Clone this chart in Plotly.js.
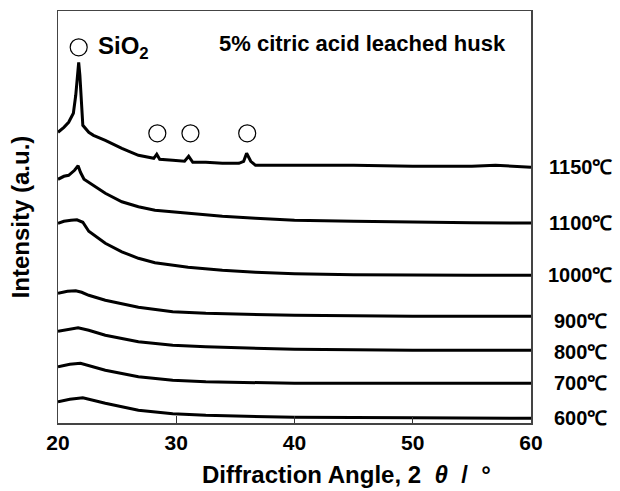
<!DOCTYPE html>
<html>
<head>
<meta charset="utf-8">
<script src="https://cdn.plot.ly/plotly-3.0.1.min.js"></script>
<style>html,body{margin:0;padding:0;background:#fff;}#chart{width:620px;height:491px;}</style>
</head>
<body>
<div id="chart"></div>
<script>
// ---- data ----
const tempLabels = ['1150℃', '1100℃', '1000℃', '900℃', '800℃', '700℃', '600℃'];

const x1150 = [20.0, 20.5, 20.9, 21.3, 21.5, 21.65, 21.75, 21.85, 22.0, 22.1, 22.6, 23.0, 24.0, 25.4, 26.8, 27.8, 28.1, 28.35, 28.6, 29.7, 30.7, 31.05, 31.4, 32.5, 33.9, 35.3, 35.7, 35.95, 36.3, 36.7, 40, 45, 50, 55, 57, 60];
const y1150 = [291, 296, 301, 310, 328, 353, 361, 348, 313, 298, 291, 288, 283, 275, 268, 266, 265, 269, 264, 263, 262, 267, 261, 261, 260, 260, 262, 270, 262, 258, 258, 258, 257, 257, 258, 256];

const x1100 = [20.0, 20.5, 20.9, 21.4, 21.7, 21.9, 22.2, 22.6, 24.0, 25.4, 26.8, 28.2, 31.0, 33.9, 36.7, 40, 45, 50, 55, 60];
const y1100 = [244, 247, 248, 253, 257.5, 251, 244, 241, 230, 221.5, 216.5, 213, 210, 207, 205, 203, 202, 201, 200.5, 200.3];

const x1000 = [20.0, 20.5, 21.1, 21.6, 22.1, 22.6, 24.0, 25.4, 26.8, 28.2, 31.0, 33.9, 36.7, 40, 45, 50, 55, 60];
const y1000 = [200, 202, 203, 203.5, 201, 192, 180, 171.5, 165, 160.5, 156, 153, 151, 149.5, 148.5, 148, 148, 148];

const x900 = [20.0, 20.8, 21.5, 22.0, 22.6, 24.0, 26.8, 29.7, 32.5, 36.7, 40, 50, 60];
const y900 = [130, 132, 132.5, 131, 128, 123, 116, 111.5, 110, 109, 108, 107, 107];

const x800 = [20.0, 21.0, 21.7, 22.6, 24.0, 26.8, 29.7, 32.5, 36.7, 40, 50, 60];
const y800 = [92, 94.5, 95.5, 93, 88, 81.5, 78, 76.5, 75, 74, 73, 73];

const x700 = [20.0, 21.0, 21.9, 24.0, 26.8, 29.7, 32.5, 36.7, 40, 50, 60];
const y700 = [56.5, 59, 60, 53, 46.5, 43, 41.5, 40.5, 40, 40, 40];

const x600 = [20.0, 21.0, 22.1, 24.0, 26.8, 29.7, 32.5, 36.7, 40, 50, 60];
const y600 = [21.5, 24, 25.5, 20, 13, 9.5, 8, 6.5, 6, 5.5, 5];

// SiO2 peak markers (open circles)
const sio2PeakX = [21.75, 28.4, 31.2, 36.0];
const sio2PeakY = [376, 290, 290, 290];

const xTickVals = [20, 30, 40, 50, 60];

// ---- chart ----
const series = [
  [x1150, y1150], [x1100, y1100], [x1000, y1000], [x900, y900],
  [x800, y800], [x700, y700], [x600, y600]
];

const FONT = 'Liberation Sans, Arial, sans-serif';
const NB = '\u00A0';

const traces = series.map((s, i) => ({
  type: 'scatter', mode: 'lines', x: s[0], y: s[1], name: tempLabels[i],
  line: {color: '#000', width: 3}, showlegend: false, hoverinfo: 'skip'
}));
traces.push({
  type: 'scatter', mode: 'markers', x: sio2PeakX, y: sio2PeakY, showlegend: false,
  marker: {symbol: 'circle-open', size: 17, color: '#000', line: {width: 1.2, color: '#000'}},
  hoverinfo: 'skip'
});

const labelShift = [0, 0, 0, -5, -2, 0, 0];
const annotations = series.map((s, i) => ({
  text: tempLabels[i], xref: 'paper', x: 1.104, yref: 'y', y: s[1][s[1].length - 1],
  yshift: labelShift[i],
  xanchor: 'center', yanchor: 'middle', showarrow: false,
  font: {family: FONT, size: 20, color: '#000', weight: 700}
}));
annotations.push({
  text: 'SiO<sub>2</sub>', xref: 'x', x: sio2PeakX[0], xshift: 17, yref: 'y', y: sio2PeakY[0],
  xanchor: 'left', yanchor: 'middle', showarrow: false,
  font: {family: FONT, size: 24, color: '#000', weight: 700}
});
annotations.push({
  text: '5% citric acid leached husk', xref: 'paper', x: 0.644, yref: 'paper', y: 0.92,
  xanchor: 'center', yanchor: 'middle', showarrow: false,
  font: {family: FONT, size: 22, color: '#000', weight: 700}
});
annotations.push({
  text: 'Diffraction Angle,' + NB + '2' + NB + NB + '<i>θ</i>' + NB + NB + '/' + NB + NB + '°',
  xref: 'paper', x: 0.61, yref: 'paper', y: -0.126,
  xanchor: 'center', yanchor: 'middle', showarrow: false,
  font: {family: FONT, size: 24, color: '#000', weight: 700}
});

const layout = {
  width: 620, height: 491,
  margin: {l: 58, r: 89, t: 11, b: 68},
  paper_bgcolor: '#fff', plot_bgcolor: '#fff',
  showlegend: false,
  xaxis: {
    range: [20, 60], tickvals: xTickVals, ticktext: xTickVals.map(String),
    ticks: 'inside', ticklen: 7, tickwidth: 1, tickcolor: '#333',
    showline: true, mirror: true, linecolor: '#444', linewidth: 1.5,
    showgrid: false, zeroline: false,
    tickfont: {family: FONT, size: 21, color: '#000', weight: 700}
  },
  yaxis: {
    range: [0.3, 412.3], showticklabels: false, ticks: '',
    showline: true, mirror: true, linecolor: '#444', linewidth: 1.5,
    showgrid: false, zeroline: false,
    title: {text: 'Intensity (a.u.)', standoff: 20, font: {family: FONT, size: 24, color: '#000', weight: 700}}
  },
  annotations: annotations
};

Plotly.newPlot('chart', traces, layout, {displayModeBar: false, staticPlot: true});
</script>
</body>
</html>
